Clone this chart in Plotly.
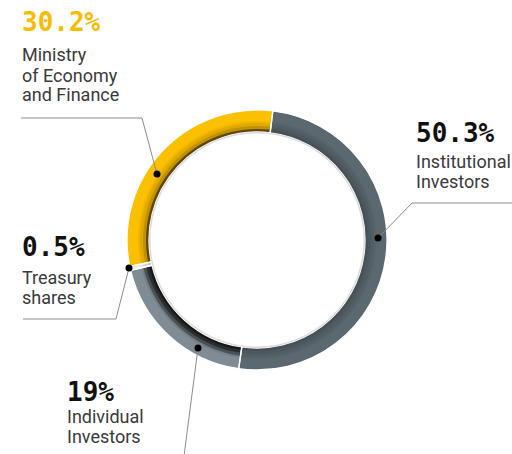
import plotly.graph_objects as go

# ---------------- data ----------------
labels = ["Institutional Investors", "Individual Investors", "Treasury shares",
          "Ministry of Economy and Finance"]
values = [50.3, 19.0, 0.5, 30.2]
pct_text = ["50.3%", "19%", "0.5%", "30.2%"]
label_lines = [["Institutional", "Investors"], ["Individual", "Investors"],
               ["Treasury", "shares"], ["Ministry", "of Economy", "and Finance"]]

# ---------------- style ----------------
# ring bands from outside in: (outer radius px, colours per slice)
bands = [
    (130, ["#5c686f", "#808b94", "#eeeeee", "#fbc000"]),
    (119, ["#57636a", "#737e87", "#e4e4e4", "#f0b600"]),
    (117, ["#525d64", "#4a5156", "#dadada", "#e1a800"]),
    (114, ["#4d575e", "#2a2c2e", "#cfcfcf", "#c39100"]),
    (111, ["#475056", "#171717", "#c4c4c4", "#5c4810"]),
]
pct_colors = ["#111111", "#111111", "#111111", "#f7bc00"]

W, H = 512, 454
CX, CY = 257, 240
R_OUT, R_IN = 130, 108


def px(x):
    return x / W


def py(y):
    return 1 - y / H


def ring_domain(r):
    return dict(x=[px(CX - r), px(CX + r)], y=[py(CY + r), py(CY - r)])


fig = go.Figure()


def add_ring(r_outer, colors, line_w, line_c="white"):
    fig.add_trace(go.Pie(
        values=values, labels=labels, sort=False, direction="clockwise",
        rotation=7, hole=R_IN / r_outer, domain=ring_domain(r_outer),
        marker=dict(colors=colors, line=dict(color=line_c, width=line_w)),
        textinfo="none", hoverinfo="label+percent", showlegend=False,
    ))


for r, cols in bands:
    add_ring(r, cols, 0)

# white separators between slices
add_ring(R_OUT, ["rgba(0,0,0,0)"] * len(values), 1.3)

# inner soft edge of the hole
fig.add_trace(go.Pie(
    values=[1], labels=["edge"], hole=(R_IN - 1.5) / R_IN, domain=ring_domain(R_IN),
    marker=dict(colors=["#dcdcdc"], line=dict(width=0)),
    textinfo="none", hoverinfo="skip", showlegend=False, sort=False,
))

# ---------------- annotations ----------------
# (left x, y centre of % text, y centres of label lines) in pixels
blocks = [
    (414, 133, [161, 181]),        # Institutional
    (65, 392, [416, 436]),         # Individual
    (20, 247, [277, 297]),         # Treasury
    (20, 22, [55, 75, 95]),        # Ministry
]

ann = []
for i, (x0, yp, ys) in enumerate(blocks):
    ann.append(dict(x=px(x0), y=py(yp), xref="paper", yref="paper",
                    xanchor="left", yanchor="middle", showarrow=False,
                    text="<b>" + pct_text[i] + "</b>",
                    font=dict(family="DejaVu Sans Mono", size=26, color=pct_colors[i])))
    for line, yl in zip(label_lines[i], ys):
        ann.append(dict(x=px(x0), y=py(yl), xref="paper", yref="paper",
                        xanchor="left", yanchor="middle", showarrow=False,
                        text=line,
                        font=dict(family="Roboto", size=18, color="#3a3a3a")))

# leader lines (pixel paths) and dots
leaders = [
    [(512, 203), (412, 203), (378, 238)],
    [(184, 456), (198, 348)],
    [(23, 319), (116, 319), (129, 268)],
    [(21, 118), (142, 118), (157, 174)],
]
shapes = []
for pts in leaders:
    path = "M " + " L ".join(f"{px(x):.5f},{py(y):.5f}" for x, y in pts)
    shapes.append(dict(type="path", path=path, xref="paper", yref="paper",
                       line=dict(color="#8c8c8c", width=1)))
    dx, dy = pts[-1]
    shapes.append(dict(type="circle", xref="paper", yref="paper",
                       x0=px(dx - 3.5), x1=px(dx + 3.5), y0=py(dy + 3.5), y1=py(dy - 3.5),
                       fillcolor="#000000", line=dict(width=0)))

fig.update_layout(
    width=W, height=H, margin=dict(l=0, r=0, t=0, b=0),
    paper_bgcolor="white", plot_bgcolor="white",
    annotations=ann, shapes=shapes, showlegend=False,
)

fig.write_html("out.html", config={"displayModeBar": False},
               post_script="document.body.style.margin='0';")
